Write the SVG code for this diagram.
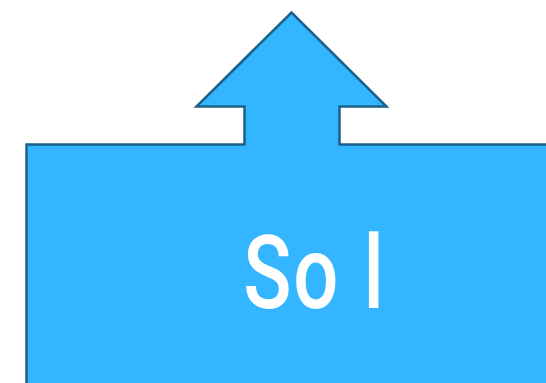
<svg xmlns="http://www.w3.org/2000/svg" width="546" height="383" viewBox="0 0 546 383">
<style>
.shape{fill:#33b5ff;stroke:#1b6189;stroke-width:2.5;stroke-linejoin:miter}
.lbl{fill:#ffffff;font-family:Roboto,"DejaVu Sans",sans-serif;font-size:102px;font-weight:500}
</style>
<g id="node-sol">
<path class="shape" d="M26.5,144.5 H244.5 V106.5 H196.5 L291.5,12.5 L386.5,106.5 H339.5 V144.5 H560 V400 H26.5 Z"/>
<text class="lbl" transform="translate(0,307.5) scale(0.78,1)"><tspan x="312 376 466" y="0">Sol</tspan></text>
</g>
<g id="connectors"></g>
</svg>
